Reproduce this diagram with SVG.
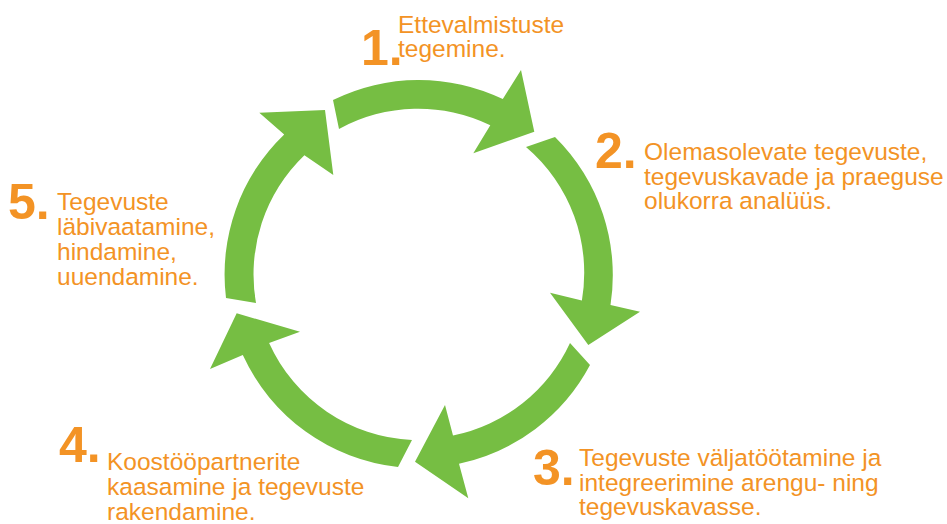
<svg xmlns="http://www.w3.org/2000/svg" width="947" height="524" viewBox="0 0 947 524">
<style>
.arrow{fill:#76BE43;stroke:none}
.num{font-family:"Liberation Sans",Arial,sans-serif;font-weight:bold;font-size:50px;fill:#F39325}
.lbl{font-family:"Liberation Sans",Arial,sans-serif;font-size:24.5px;fill:#F39325}
</style>
<rect width="947" height="524" fill="#FFFFFF"/>
<g id="connectors">
<path class="arrow" d="M333,100 A194,194 0 0 1 502.8,99.1 L521,70 L534.3,131.7 L473.3,153.3 L490.3,125.2 A165,165 0 0 0 339,129 Z"/>
<path class="arrow" d="M555,137 A194,194 0 0 1 610.5,305 L640,311.7 L588.3,345 L550,292.7 L581.9,300.4 A165,165 0 0 0 526,147 Z"/>
<path class="arrow" d="M590,365 A194,194 0 0 1 459,463.8 L468.3,498.3 L415,461.7 L445,405 L453,435.5 A165,165 0 0 0 570,343 Z"/>
<path class="arrow" d="M398,467 A194,194 0 0 1 242.8,355.1 L210,369 L236.7,313.3 L300,331.7 L269.1,343 A165,165 0 0 0 412,440 Z"/>
<path class="arrow" d="M226,298 A194,194 0 0 1 284.2,134.5 L259.3,112.7 L325,110 L333.3,175 L304.4,155.3 A165,165 0 0 0 256,303 Z"/>
</g>
<g id="step1">
<text class="num" x="361" y="65">1.</text>
<text class="lbl" x="398" y="32.5">Ettevalmistuste</text>
<text class="lbl" x="398" y="57">tegemine.</text>
</g>
<g id="step2">
<text class="num" x="595" y="168">2.</text>
<text class="lbl" x="644" y="160">Olemasolevate tegevuste,</text>
<text class="lbl" x="644" y="184.5">tegevuskavade ja praeguse</text>
<text class="lbl" x="644" y="209">olukorra analüüs.</text>
</g>
<g id="step3">
<text class="num" x="533" y="485">3.</text>
<text class="lbl" x="579" y="466">Tegevuste väljatöötamine ja</text>
<text class="lbl" x="579" y="490.5">integreerimine arengu- ning</text>
<text class="lbl" x="579" y="515">tegevuskavasse.</text>
</g>
<g id="step4">
<text class="num" x="59" y="462">4.</text>
<text class="lbl" x="107" y="470">Koostööpartnerite</text>
<text class="lbl" x="107" y="495">kaasamine ja tegevuste</text>
<text class="lbl" x="107" y="520">rakendamine.</text>
</g>
<g id="step5">
<text class="num" x="8" y="219">5.</text>
<text class="lbl" x="57" y="210">Tegevuste</text>
<text class="lbl" x="57" y="235">läbivaatamine,</text>
<text class="lbl" x="57" y="260">hindamine,</text>
<text class="lbl" x="57" y="285">uuendamine.</text>
</g>
</svg>
